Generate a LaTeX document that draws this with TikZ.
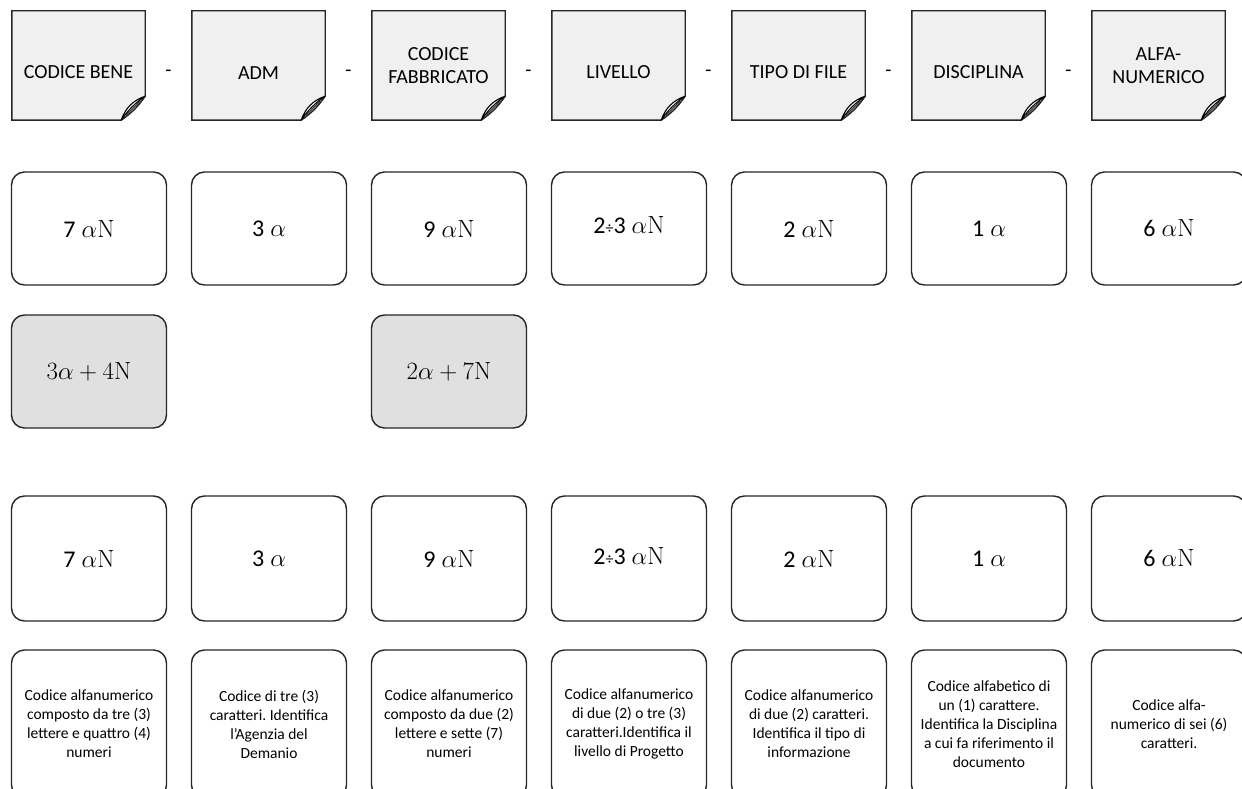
\documentclass[tikz,border=0pt]{standalone}
\usepackage{amsmath}
\usepackage[no-math]{fontspec}
\setmainfont{Carlito}
\usepackage{tikz}
\usetikzlibrary{backgrounds,calc}
\frenchspacing
\newcommand{\codeN}[1]{#1\hspace{6pt}{\fontsize{27}{30}\selectfont$\alpha\mathrm{N}$}}
\newcommand{\codeA}[1]{#1\hspace{6pt}{\fontsize{27}{30}\selectfont$\alpha$}}
\tikzset{%
  note/.style={%
    minimum width=133pt,
    minimum height=109pt,
    inner sep=2pt,
    align=center,
    font=\fontsize{20}{23}\selectfont
  },
  note paper/.style={%
    draw=black!85,
    line width=1.4pt,
    fill=black!6
  },
  code box/.style={%
    draw=black!85,
    line width=1.4pt,
    rounded corners=13pt,
    minimum width=155pt,
    minimum height=113pt,
    font=\fontsize{24}{28}\selectfont
  },
  split box/.style={%
    code box,
    fill=black!12,
    font=\fontsize{27}{30}\selectfont
  },
  info box/.style={%
    code box,
    minimum height=148pt,
    align=center,
    font=\fontsize{15.5}{19}\selectfont
  }
}

\begin{document}
\begin{tikzpicture}[x=1pt,y=-1pt]
  \useasboundingbox (0,0) rectangle (1242,789);
  \node [note] (n1) at (78.5, 65.5) {\strut\\[-12pt]CODICE BENE};
  \node [note] (n2) at (258.5, 65.5) {\strut\\[-12pt]ADM};
  \node [note] (n3) at (438.5, 65.5) {CODICE\\FABBRICATO};
  \node [note] (n4) at (618.5, 65.5) {\strut\\[-12pt]LIVELLO};
  \node [note] (n5) at (798.5, 65.5) {\strut\\[-12pt]TIPO DI FILE};
  \node [note] (n6) at (978.5, 65.5) {\strut\\[-12pt]DISCIPLINA};
  \node [note] (n7) at (1158.5, 65.5) {ALFA-\\NUMERICO};
  \foreach \i in {1,...,6} {
    \node [font=\fontsize{20}{23}\selectfont] (d\i) at ($(n\i.east)!0.5!(n\the\numexpr\i+1\relax.west)+(0,-8pt)$) {-};
  }
  \begin{scope}[on background layer]
    \foreach \i in {1,...,7} {
      \draw [note paper] (n\i.north west) -- (n\i.north east)
        -- ([yshift=24pt]n\i.south east)
        to [bend left=10] ([xshift=-24pt]n\i.south east)
        -- (n\i.south west) -- cycle;
      \draw [fill=white,line width=1.1pt,line join=round] ([yshift=24pt]n\i.south east)
        .. controls ([xshift=-12pt,yshift=20pt]n\i.south east) and ([xshift=-20pt,yshift=12pt]n\i.south east) .. ([xshift=-24pt]n\i.south east)
        to [bend left=10] ([yshift=24pt]n\i.south east);
      \draw [line width=0.8pt] ([xshift=-5pt,yshift=19pt]n\i.south east) -- ([xshift=-19pt,yshift=5pt]n\i.south east);
    }
  \end{scope}

  \node [code box] (c1) at (89, 228.5) {\codeN{7}};
  \node [code box] (c2) at (269, 228.5) {\codeA{3}};
  \node [code box] (c3) at (449, 228.5) {\codeN{9}};
  \node [code box] (c4) at (629, 228.5) {\raisebox{6pt}{\codeN{2{\fontsize{16}{16}\selectfont ÷}3}}};
  \node [code box] (c5) at (809, 228.5) {\codeN{2}};
  \node [code box] (c6) at (989, 228.5) {\codeA{1}};
  \node [code box] (c7) at (1169, 228.5) {\codeN{6}};

  \node [split box] (s1) at (89, 371.5) {$3\alpha + 4\mathrm{N}$};
  \node [split box] (s3) at (449, 371.5) {$2\alpha + 7\mathrm{N}$};

  \node [code box,minimum height=125pt] (r1) at (89, 558.5) {\codeN{7}};
  \node [code box,minimum height=125pt] (r2) at (269, 558.5) {\codeA{3}};
  \node [code box,minimum height=125pt] (r3) at (449, 558.5) {\codeN{9}};
  \node [code box,minimum height=125pt] (r4) at (629, 558.5) {\raisebox{5pt}{\codeN{2{\fontsize{16}{16}\selectfont ÷}3}}};
  \node [code box,minimum height=125pt] (r5) at (809, 558.5) {\codeN{2}};
  \node [code box,minimum height=125pt] (r6) at (989, 558.5) {\codeA{1}};
  \node [code box,minimum height=125pt] (r7) at (1169, 558.5) {\codeN{6}};

  \node [info box] (i1) at (89, 724) {Codice alfanumerico\\composto da tre (3)\\lettere e quattro (4)\\numeri};
  \node [info box] (i2) at (269, 724) {Codice di tre (3)\\caratteri. Identifica\\l’Agenzia del\\Demanio};
  \node [info box] (i3) at (449, 724) {Codice alfanumerico\\composto da due (2)\\lettere e sette (7)\\numeri};
  \node [info box] (i4) at (629, 724) {Codice alfanumerico\\di due (2) o tre (3)\\caratteri.Identifica il\\livello di Progetto};
  \node [info box] (i5) at (809, 724) {Codice alfanumerico\\di due (2) caratteri.\\Identifica il tipo di\\informazione};
  \node [info box] (i6) at (989, 724) {Codice alfabetico di\\un (1) carattere.\\Identifica la Disciplina\\a cui fa riferimento il\\documento};
  \node [info box] (i7) at (1169, 724) {Codice alfa-\\numerico di sei (6)\\caratteri.};
\end{tikzpicture}
\end{document}
